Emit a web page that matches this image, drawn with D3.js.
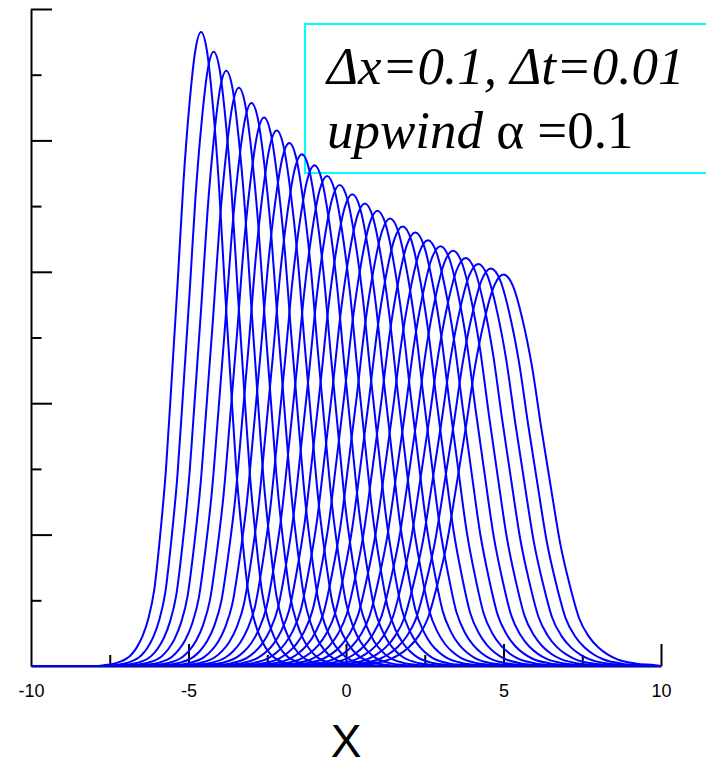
<!DOCTYPE html>
<html>
<head>
<meta charset="utf-8">
<script src="https://cdn.jsdelivr.net/npm/d3@7"></script>
<style>
  body { margin: 0; background: #fff; }
  .axis path, .axis line { stroke: #000; stroke-width: 2; }
  .axis text { font-family: "Liberation Sans", Arial, sans-serif; font-size: 18px; fill: #000; }
</style>
</head>
<body>
<div class="graph"></div>
<script>
// Peak position of each profile (one every 0.4 in x)
var peakX = [-4.6, -4.2, -3.8, -3.4, -3.0, -2.6, -2.2, -1.8, -1.4, -1.0, -0.6, -0.2,
             0.2, 0.6, 1.0, 1.4, 1.8, 2.2, 2.6, 3.0, 3.4, 3.8, 4.2, 4.6, 5.0];
// Peak height of each profile
var peakU = [0.965, 0.935, 0.906, 0.880, 0.857, 0.835, 0.815, 0.796, 0.779, 0.762, 0.746, 0.732,
             0.718, 0.704, 0.693, 0.681, 0.669, 0.660, 0.648, 0.639, 0.632, 0.621, 0.612, 0.605, 0.596];
// Width of each profile (x units)
var halfWidth = [0.744, 0.768, 0.793, 0.816, 0.838, 0.860, 0.881, 0.902, 0.922, 0.942, 0.962, 0.981,
                 1.000, 1.020, 1.036, 1.054, 1.073, 1.088, 1.108, 1.124, 1.136, 1.156, 1.173, 1.187, 1.205];
// Shape of one side of a bump: offset (in widths) -> fraction of peak
var profileOffset = [0, 0.25, 0.5, 0.75, 1.0, 1.25, 1.5, 1.75, 2.0, 2.25, 2.5, 2.75, 3.0, 3.5, 4.0, 4.5];
var profileFrac = [1, 0.97, 0.885, 0.765, 0.605, 0.455, 0.31, 0.205, 0.12, 0.075, 0.047, 0.029, 0.017, 0.006, 0.002, 0];

var xTickLabels = [-10, -5, 0, 5, 10];
var xMajor = [-5, 0, 5, 10];
var xMinor = [-7.5, -2.5, 2.5, 7.5];
var yMajor = [0.2, 0.4, 0.6, 0.8, 1.0];
var yMinor = [0.1, 0.3, 0.5, 0.7, 0.9];

var width = 706, height = 767;

var xScale = d3.scaleLinear().domain([-10, 10]).range([31, 661]);
var yScale = d3.scaleLinear().domain([0, 1]).range([666, 9]);

var svg = d3.select(".graph")
  .append("svg")
  .attr("width", width)
  .attr("height", height);

// x axis: labels, then major and minor ticks pointing up
svg.append("g")
  .attr("class", "axis")
  .attr("transform", "translate(0,666)")
  .call(d3.axisBottom(xScale).tickValues(xTickLabels).tickSize(0).tickPadding(18)
    .tickFormat(function(d) { return String(d); }))
  .call(function(g) { g.select(".domain").remove(); });

svg.append("g")
  .attr("class", "axis")
  .attr("transform", "translate(0,666)")
  .call(d3.axisBottom(xScale).tickValues(xMajor).tickSizeInner(-22).tickSizeOuter(0).tickFormat(""));

svg.append("g")
  .attr("class", "axis")
  .attr("transform", "translate(0,666)")
  .call(d3.axisBottom(xScale).tickValues(xMinor).tickSizeInner(-11).tickSizeOuter(0).tickFormat(""))
  .call(function(g) { g.select(".domain").remove(); });

// y axis: no labels, ticks point right
svg.append("g")
  .attr("class", "axis")
  .attr("transform", "translate(31,0)")
  .call(d3.axisLeft(yScale).tickValues(yMajor).tickSizeInner(-21).tickSizeOuter(0).tickFormat(""));

svg.append("g")
  .attr("class", "axis")
  .attr("transform", "translate(31,0)")
  .call(d3.axisLeft(yScale).tickValues(yMinor).tickSizeInner(-10.5).tickSizeOuter(0).tickFormat(""))
  .call(function(g) { g.select(".domain").remove(); });

// build the points of one profile from the shape table
function profilePoints(i) {
  var pts = [];
  for (var j = profileOffset.length - 1; j > 0; j--) {
    pts.push([peakX[i] - profileOffset[j] * halfWidth[i], peakU[i] * profileFrac[j]]);
  }
  for (var j = 0; j < profileOffset.length; j++) {
    pts.push([peakX[i] + profileOffset[j] * halfWidth[i], peakU[i] * profileFrac[j]]);
  }
  pts = pts.filter(function(p) { return p[0] > -10 && p[0] < 10; });
  pts.unshift([-10, 0]);
  pts.push([10, 0]);
  return pts;
}

var line = d3.line()
  .x(function(d) { return xScale(d[0]); })
  .y(function(d) { return yScale(d[1]); })
  .curve(d3.curveMonotoneX);

// legend box
svg.append("rect")
  .attr("x", 305)
  .attr("y", 24)
  .attr("width", 420)
  .attr("height", 149)
  .style("fill", "none")
  .style("stroke", "#00ffff")
  .style("stroke-width", 2);

svg.append("g")
  .selectAll("path")
  .data(peakX.map(function(d, i) { return profilePoints(i); }))
  .enter()
  .append("path")
  .attr("d", line)
  .style("fill", "none")
  .style("stroke", "#0000ff")
  .style("stroke-width", 2);

var legend = svg.append("g")
  .style("font-family", "'Liberation Serif', 'Times New Roman', serif")
  .style("font-size", "53px");

legend.append("text")
  .attr("x", 327)
  .attr("y", 84)
  .style("font-style", "italic")
  .text("\u0394x=0.1, \u0394t=0.01");

var l2 = legend.append("text")
  .attr("x", 327)
  .attr("y", 148);
l2.append("tspan").style("font-style", "italic").text("upwind");
l2.append("tspan").text(" \u03b1 =0.1");

// x axis title
svg.append("text")
  .attr("x", xScale(0))
  .attr("y", 757)
  .attr("text-anchor", "middle")
  .style("font-family", "'Liberation Sans', Arial, sans-serif")
  .style("font-size", "46px")
  .text("X");
</script>
</body>
</html>
